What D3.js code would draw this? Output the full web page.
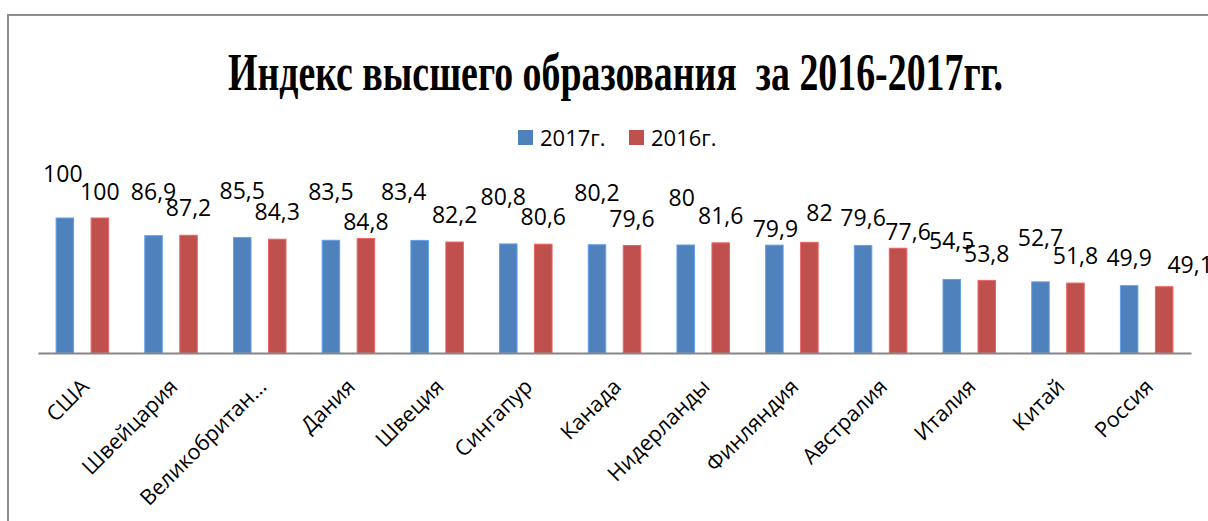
<!DOCTYPE html>
<html><head><meta charset="utf-8">
<script src="https://cdn.jsdelivr.net/npm/d3@7"></script>
<style>
html,body{margin:0;padding:0;background:#fff;overflow:hidden}
svg{display:block}
</style></head>
<body>
<svg id="chart" width="1208" height="521"></svg>
<script>
const categories = ["США","Швейцария","Великобритан…","Дания","Швеция","Сингапур","Канада","Нидерланды","Финляндия","Австралия","Италия","Китай","Россия"];
const seriesNames = ["2017г.","2016г."];
const values2017 = [100,86.9,85.5,83.5,83.4,80.8,80.2,80,79.9,79.6,54.5,52.7,49.9];
const values2016 = [100,87.2,84.3,84.8,82.2,80.6,79.6,81.6,82,77.6,53.8,51.8,49.1];
const titleText = "Индекс высшего образования  за 2016-2017гг.";

// manual label placement (px) as in the original (gap above bar top, x shift)
const labelGap2017 = [44,44,47,48,48,47,52,47,16,28,38,44,28];
const labelGap2016 = [26,27,27,17,27,27,27,27,29,16,26,27,22];
const labelShift2017 = [-2,0,0,0,-16,-5,0,-4,1,0,0,0,0];
const labelShift2016 = [0,0,0,0,0,0,0,0,10,10,0,0,26];

const colors = {"2017г.":"#4F81BD","2016г.":"#C0504D"};
const svg = d3.select("#chart");

// frame
svg.append("rect").attr("x",8).attr("y",15).attr("width",1400).attr("height",700)
  .attr("fill","none").attr("stroke","#8c8c8c").attr("stroke-width",2);

// title
svg.append("text").attr("x",228).attr("y",90)
  .attr("textLength",775).attr("lengthAdjust","spacingAndGlyphs")
  .style("white-space","pre")
  .attr("font-family","'Liberation Serif','Times New Roman',serif")
  .attr("font-weight","bold").attr("font-size",52).attr("fill","#000")
  .text(titleText);

// legend
const legendX = [518,629];
seriesNames.forEach((s,i)=>{
  svg.append("rect").attr("x",legendX[i]).attr("y",130).attr("width",15).attr("height",15).attr("fill",colors[s]);
  svg.append("text").attr("x",legendX[i]+22).attr("y",146)
    .attr("font-family","'Open Sans',sans-serif").attr("font-size",22).attr("fill","#000").text(s);
});

const x0 = d3.scaleBand().domain(categories).range([38,1191]).padding(0);
const x1 = d3.scaleBand().domain(seriesNames).range([0,x0.bandwidth()]).paddingInner(0.5).paddingOuter(0.517);
const y = d3.scaleLinear().domain([0,100]).range([353,218]);

const data = categories.map((c,i)=>({c, vals:[
  {s:"2017г.", v:values2017[i], gap:labelGap2017[i], dx:labelShift2017[i]},
  {s:"2016г.", v:values2016[i], gap:labelGap2016[i], dx:labelShift2016[i]}]}));

const g = svg.selectAll("g.cat").data(data).enter().append("g")
  .attr("transform",d=>`translate(${x0(d.c)},0)`);

g.selectAll("rect").data(d=>d.vals).enter().append("rect")
  .attr("x",d=>x1(d.s)).attr("width",x1.bandwidth())
  .attr("y",d=>y(d.v)).attr("height",d=>y(0)-y(d.v))
  .attr("fill",d=>colors[d.s])
  .attr("stroke",d=>d3.color(colors[d.s]).brighter(0.6)).attr("stroke-width",1);

const fmt = v => String(v).replace(".",",");
g.selectAll("text.lbl").data(d=>d.vals).enter().append("text").attr("class","lbl")
  .attr("x",d=>x1(d.s)+x1.bandwidth()/2+d.dx)
  .attr("y",d=>y(d.v)-d.gap+8)
  .attr("text-anchor","middle")
  .attr("font-family","'Open Sans',sans-serif").attr("font-size",23).attr("fill","#000")
  .text(d=>fmt(d.v));

// x axis
const xAxis = d3.axisBottom(x0).tickSize(0).tickPadding(0);
const ax = svg.append("g").attr("transform","translate(0,353)").call(xAxis);
ax.select(".domain").attr("stroke","#868686").attr("stroke-width",2);
ax.selectAll(".tick text")
  .attr("font-family","'Open Sans',sans-serif").attr("font-size",21.5).attr("fill","#000")
  .attr("text-anchor","end").attr("y",0).attr("dy",0)
  .attr("transform","translate(8,35) rotate(-45)");
</script>
</body></html>
